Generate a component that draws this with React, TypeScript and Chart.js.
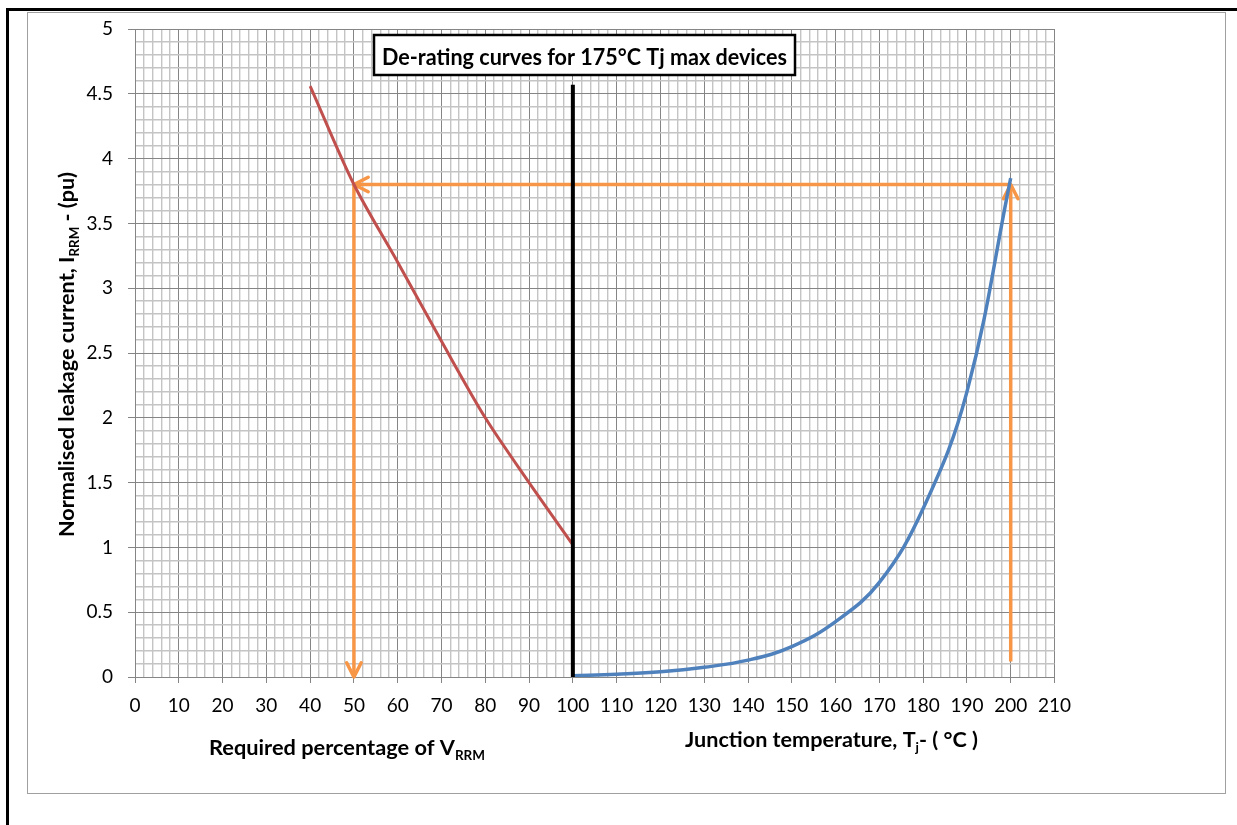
import React, { useEffect, useRef } from "react";
import { Chart, registerables } from "chart.js";

Chart.register(...registerables);

// ---- data ----
const voltagePct = [40, 50, 60, 70, 80, 90, 100];
const voltageCurrent = [4.56, 3.8, 3.2, 2.59, 2.0, 1.5, 1.02];

const junctionTemp = [100, 110, 120, 130, 140, 150, 160, 170, 180, 190, 200];
const tempCurrent = [0.01, 0.022, 0.04, 0.075, 0.13, 0.234, 0.427, 0.73, 1.3, 2.2, 3.85];

const dividerX = [100, 100];
const dividerY = [0, 4.57];

const readAcrossX = [200, 50];
const readAcrossY = [3.8, 3.8];
const readDownX = [50, 50];
const readDownY = [3.8, 0];
const readUpX = [200, 200];
const readUpY = [0.12, 3.8];

const xMin = 0;
const xMax = 210;
const xMinorStep = 2;
const xMajorStep = 10;
const yMin = 0;
const yMax = 5;
const yMinorStep = 0.1;
const yMajorStep = 0.5;

const chartTitle = "De-rating curves for 175°C Tj max devices";
const leftAxisLabel = [{ text: "Required percentage of V" }, { text: "RRM", sub: true }];
const rightAxisLabel = [
  { text: "Junction temperature, T" },
  { text: "j", sub: true },
  { text: "- ( °C )" },
];
const yAxisLabel = [
  { text: "Normalised leakage current, I" },
  { text: "RRM", sub: true },
  { text: " - (pu)" },
];

const FONT = "Lato, 'Open Sans', sans-serif";
const MAJOR = "#858585";
const MINOR = "#c4c4c4";
const ORANGE = "#F79646";

const pts = (xs: number[], ys: number[]) => xs.map((x, i) => ({ x, y: ys[i] }));

const isMajorX = (v: number) => Math.abs(v / xMajorStep - Math.round(v / xMajorStep)) < 1e-6;
const isMajorY = (v: number) => Math.abs(v / yMajorStep - Math.round(v / yMajorStep)) < 1e-6;

type Part = { text: string; sub?: boolean };

function drawRich(
  ctx: CanvasRenderingContext2D,
  parts: Part[],
  x: number,
  y: number,
  targetW: number,
  size: number,
  rotate = false
) {
  const subSize = size * 0.62;
  let w = 0;
  parts.forEach((p) => {
    ctx.font = `bold ${p.sub ? subSize : size}px ${FONT}`;
    w += ctx.measureText(p.text).width;
  });
  const sx = targetW / w;
  ctx.save();
  ctx.translate(x, y);
  if (rotate) ctx.rotate(-Math.PI / 2);
  ctx.scale(sx, 1);
  ctx.textAlign = "left";
  ctx.textBaseline = "alphabetic";
  ctx.fillStyle = "#000";
  let cx = 0;
  parts.forEach((p) => {
    const fs = p.sub ? subSize : size;
    ctx.font = `bold ${fs}px ${FONT}`;
    ctx.fillText(p.text, cx, p.sub ? size * 0.27 : 0);
    cx += ctx.measureText(p.text).width;
  });
  ctx.restore();
}

const arrowPlugin = {
  id: "arrowHeads",
  afterDatasetDraw(chart: any, args: any) {
    const ds = chart.data.datasets[args.index];
    if (!ds.arrow) return;
    const el = args.meta.data;
    const tip = el[el.length - 1];
    const prev = el[el.length - 2];
    const ang = Math.atan2(tip.y - prev.y, tip.x - prev.x);
    const len = 16;
    const spread = (27 * Math.PI) / 180;
    const ctx = chart.ctx;
    ctx.save();
    ctx.strokeStyle = ds.borderColor;
    ctx.lineWidth = 3.5;
    ctx.lineCap = "round";
    ctx.lineJoin = "round";
    ctx.beginPath();
    ctx.moveTo(tip.x - len * Math.cos(ang - spread), tip.y - len * Math.sin(ang - spread));
    ctx.lineTo(tip.x, tip.y);
    ctx.lineTo(tip.x - len * Math.cos(ang + spread), tip.y - len * Math.sin(ang + spread));
    ctx.stroke();
    ctx.restore();
  },
};

const textPlugin = {
  id: "texts",
  afterDraw(chart: any) {
    const ctx: CanvasRenderingContext2D = chart.ctx;
    // title box
    ctx.save();
    ctx.fillStyle = "#fff";
    ctx.fillRect(346, 22, 421, 40);
    ctx.strokeStyle = "#000";
    ctx.lineWidth = 2.5;
    ctx.strokeRect(346, 22, 421, 40);
    ctx.restore();
    drawRich(ctx, [{ text: chartTitle }], 556.5 - 202.5, 52, 405, 23.5);
    // axis titles
    drawRich(ctx, leftAxisLabel, 181, 742, 276, 20);
    drawRich(ctx, rightAxisLabel, 657, 734, 293, 20);
    drawRich(ctx, yAxisLabel, 46, 524, 365, 20, true);
  },
};

export default function App() {
  const ref = useRef<HTMLCanvasElement>(null);

  useEffect(() => {
    document.body.style.overflow = "hidden";
    const chart = new Chart(ref.current as HTMLCanvasElement, {
      type: "line",
      data: {
        datasets: [
          {
            data: pts(dividerX, dividerY),
            borderColor: "#000000",
            borderWidth: 4,
            pointRadius: 0,
            order: 0,
          },
          {
            data: pts(junctionTemp, tempCurrent),
            borderColor: "#4F81BD",
            borderWidth: 3.5,
            pointRadius: 0,
            tension: 0.4,
            order: 1,
          },
          {
            data: pts(voltagePct, voltageCurrent),
            borderColor: "#C0504D",
            borderWidth: 3,
            pointRadius: 0,
            tension: 0.3,
            order: 2,
          },
          {
            data: pts(readAcrossX, readAcrossY),
            borderColor: ORANGE,
            borderWidth: 3.5,
            pointRadius: 0,
            arrow: true,
            order: 3,
          } as any,
          {
            data: pts(readDownX, readDownY),
            borderColor: ORANGE,
            borderWidth: 3.5,
            pointRadius: 0,
            arrow: true,
            order: 4,
          } as any,
          {
            data: pts(readUpX, readUpY),
            borderColor: ORANGE,
            borderWidth: 3.5,
            pointRadius: 0,
            arrow: true,
            order: 5,
          } as any,
        ],
      },
      options: {
        responsive: false,
        animation: false,
        events: [],
        layout: { padding: { left: 0, right: 170.5, top: 16, bottom: 0 } },
        plugins: { legend: { display: false }, tooltip: { enabled: false } },
        elements: { line: { fill: false } },
        scales: {
          x: {
            type: "linear",
            min: xMin,
            max: xMax,
            afterFit: (s: any) => {
              s.height = 116;
              s.paddingLeft = 0;
              s.paddingRight = 0;
            },
            ticks: {
              stepSize: xMinorStep,
              autoSkip: false,
              maxRotation: 0,
              minRotation: 0,
              padding: 11,
              color: "#000",
              font: { family: FONT, size: 19 },
              callback: (v: any) => (isMajorX(Number(v)) ? String(Math.round(Number(v))) : ""),
            },
            grid: {
              color: (c: any) => (c.tick && isMajorX(c.tick.value) ? MAJOR : MINOR),
              lineWidth: (c: any) => (c.tick && isMajorX(c.tick.value) ? 1 : 1.4),
              tickLength: 6,
              tickColor: (c: any) => (c.tick && isMajorX(c.tick.value) ? MAJOR : "rgba(0,0,0,0)"),
            },
            border: { color: MAJOR, width: 1 },
          },
          y: {
            type: "linear",
            min: yMin,
            max: yMax,
            afterFit: (s: any) => {
              s.width = 107;
              s.paddingTop = 0;
              s.paddingBottom = 0;
            },
            ticks: {
              stepSize: yMinorStep,
              autoSkip: false,
              padding: 15,
              color: "#000",
              font: { family: FONT, size: 19 },
              callback: (v: any) =>
                isMajorY(Number(v)) ? String(Math.round(Number(v) * 10) / 10) : "",
            },
            grid: {
              color: (c: any) => (c.tick && isMajorY(c.tick.value) ? MAJOR : MINOR),
              lineWidth: (c: any) => (c.tick && isMajorY(c.tick.value) ? 1 : 1.4),
              tickLength: 7,
              tickColor: (c: any) => (c.tick && isMajorY(c.tick.value) ? MAJOR : "rgba(0,0,0,0)"),
            },
            border: { color: MAJOR, width: 1 },
          },
        },
      },
      plugins: [arrowPlugin, textPlugin],
    } as any);
    return () => chart.destroy();
  }, []);

  return (
    <div>
      <div
        style={{
          position: "absolute",
          left: 6,
          top: 8,
          width: 1231,
          height: 817,
          borderLeft: "3px solid #000",
          borderTop: "3px solid #000",
          boxSizing: "border-box",
        }}
      />
      <div
        style={{
          position: "absolute",
          left: 27,
          top: 12,
          width: 1199,
          height: 782,
          border: "1px solid #a0a0a0",
          boxSizing: "border-box",
          background: "#fff",
        }}
      />
      <canvas
        ref={ref}
        width={1197}
        height={780}
        style={{ position: "absolute", left: 28, top: 13, width: 1197, height: 780 }}
      />
    </div>
  );
}
